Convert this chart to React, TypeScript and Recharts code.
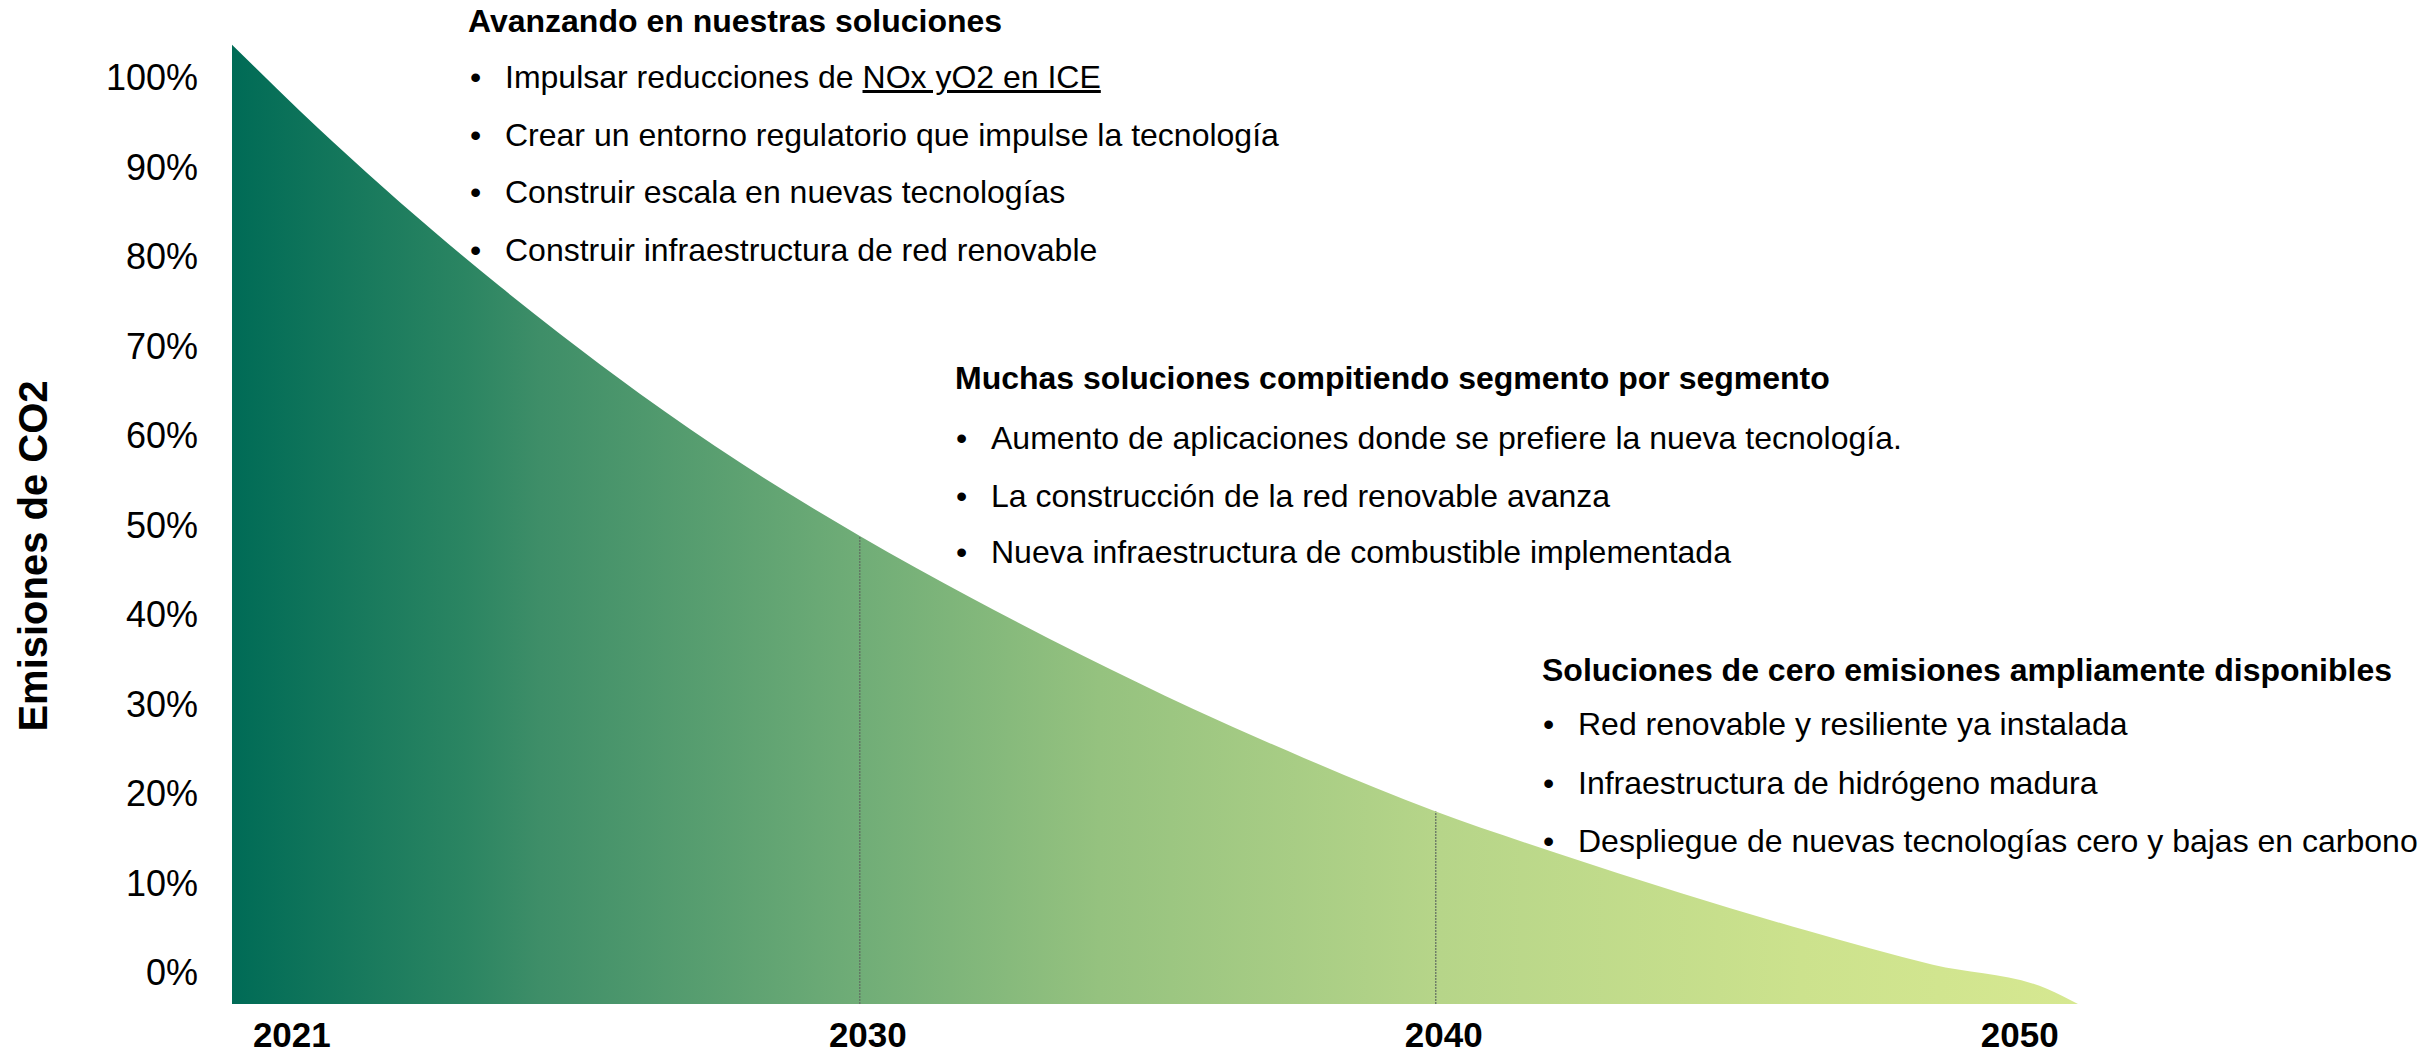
import { AreaChart, Area, XAxis, YAxis, ReferenceLine } from "recharts";

// position along the evenly spaced year axis (0 = 2021, 1 = 2030, 2 = 2040, 3 = 2050)
const curvePosition = [
  -0.09, 0.028, 0.144, 0.259, 0.375, 0.479, 0.618, 0.792, 1.0, 1.193,
  1.385, 1.578, 1.771, 2.0, 2.208, 2.425, 2.644, 2.863, 3.061, 3.115,
];
// CO2 emissions, % of today
const curveEmissions = [
  103.7, 96.3, 89.4, 82.9, 76.7, 71.4, 64.7, 57.0, 48.8, 41.9,
  35.5, 29.5, 24.0, 18.0, 13.4, 8.9, 4.7, 0.9, -1.8, -3.5,
];

const xTickLabels = ["2021", "2030", "2040", "2050"];
const xTickPositions = [0, 1, 2, 3];
const yTickValues = [0, 10, 20, 30, 40, 50, 60, 70, 80, 90, 100];
const yDomain: [number, number] = [-3.5, 104];

// milestone lines at 2030 and 2040
const markerPositions = [1, 2];
const markerValues = [48.8, 18.0];

const blocks = [
  {
    title: "Avanzando en nuestras soluciones",
    bullets: [
      "Impulsar reducciones de ",
      "Crear un entorno regulatorio que impulse la tecnología",
      "Construir escala en nuevas tecnologías",
      "Construir infraestructura de red renovable",
    ],
  },
  {
    title: "Muchas soluciones compitiendo segmento por segmento",
    bullets: [
      "Aumento de aplicaciones donde se prefiere la nueva tecnología.",
      "La construcción de la red renovable avanza",
      "Nueva infraestructura de combustible implementada",
    ],
  },
  {
    title: "Soluciones de cero emisiones ampliamente disponibles",
    bullets: [
      "Red renovable y resiliente ya instalada",
      "Infraestructura de hidrógeno madura",
      "Despliegue de nuevas tecnologías cero y bajas en carbono",
    ],
  },
];
const underlinedTail = "NOx yO2 en ICE";

const blockLayout = [
  { titleX: 468, textX: 505, titleY: 22, lineY: [78, 136, 193, 251] },
  { titleX: 955, textX: 991, titleY: 379, lineY: [439, 497, 553] },
  { titleX: 1542, textX: 1578, titleY: 671, lineY: [725, 784, 842] },
];

const data = curvePosition.map((p, i) => ({ pos: p, emissions: curveEmissions[i] }));

const FONT = '"Liberation Sans", Arial, Helvetica, sans-serif';

const YTick = ({ y, payload }: any) => (
  <text x={198} y={y} textAnchor="end" dominantBaseline="central" fontSize={36} fontFamily={FONT} fill="#000">
    {payload.value}%
  </text>
);

const XTick = ({ x, payload }: any) => (
  <text x={x + 8} y={1034} textAnchor="middle" dominantBaseline="central" fontSize={35} fontWeight="bold" fontFamily={FONT} fill="#000">
    {xTickLabels[payload.value]}
  </text>
);

export default function App() {
  return (
    <div style={{ position: "absolute", left: 0, top: 0, width: 2423, height: 1055, background: "#fff", fontFamily: FONT }}>
      <AreaChart width={2423} height={1055} data={data} margin={{ top: 42, right: 345, bottom: 0, left: 0 }}>
        <defs>
          <linearGradient id="emGrad" x1="0" y1="0" x2="1" y2="0">
            <stop offset="0%" stopColor="#006b56" />
            <stop offset="12.7%" stopColor="#2b8562" />
            <stop offset="16.7%" stopColor="#3e8e68" />
            <stop offset="34%" stopColor="#70ad77" />
            <stop offset="47%" stopColor="#95c27f" />
            <stop offset="65.4%" stopColor="#b6d589" />
            <stop offset="85%" stopColor="#cce28d" />
            <stop offset="100%" stopColor="#d6e891" />
          </linearGradient>
        </defs>
        <XAxis
          dataKey="pos"
          type="number"
          domain={[curvePosition[0], curvePosition[curvePosition.length - 1]]}
          ticks={xTickPositions}
          height={51}
          axisLine={false}
          tickLine={false}
          tick={<XTick />}
          interval={0}
        />
        <YAxis
          type="number"
          domain={yDomain}
          ticks={yTickValues}
          width={232}
          axisLine={false}
          tickLine={false}
          tick={<YTick />}
          interval={0}
        />
        <Area
          type="monotone"
          dataKey="emissions"
          baseValue="dataMin"
          stroke="none"
          fill="url(#emGrad)"
          fillOpacity={1}
          isAnimationActive={false}
          dot={false}
          activeDot={false}
        />
        {markerPositions.map((p, i) => (
          <ReferenceLine
            key={p}
            segment={[
              { x: p, y: yDomain[0] },
              { x: p, y: markerValues[i] },
            ]}
            stroke="#5f6b60"
            strokeWidth={1.2}
            strokeDasharray="2 1"
          />
        ))}
      </AreaChart>

      <svg width={2423} height={1055} style={{ position: "absolute", left: 0, top: 0, pointerEvents: "none" }}>
        <text
          transform="translate(33,556) rotate(-90)"
          textAnchor="middle"
          dominantBaseline="central"
          fontSize={40}
          fontWeight="bold"
          fontFamily={FONT}
          fill="#000"
        >
          Emisiones de CO2
        </text>
      </svg>

      {blocks.map((b, bi) => {
        const L = blockLayout[bi];
        return (
          <div key={bi}>
            <div style={{ position: "absolute", left: L.titleX, top: L.titleY - 17, fontSize: 32, lineHeight: "32px", fontWeight: "bold", whiteSpace: "nowrap", color: "#000" }}>
              {b.title}
            </div>
            {b.bullets.map((t, li) => (
              <div key={li}>
                <div style={{ position: "absolute", left: L.textX - 35, top: L.lineY[li] - 17, fontSize: 32, lineHeight: "32px", color: "#000" }}>•</div>
                <div style={{ position: "absolute", left: L.textX, top: L.lineY[li] - 17, fontSize: 32, lineHeight: "32px", whiteSpace: "nowrap", color: "#000" }}>
                  {t}
                  {bi === 0 && li === 0 ? <span style={{ textDecoration: "underline" }}>{underlinedTail}</span> : null}
                </div>
              </div>
            ))}
          </div>
        );
      })}
    </div>
  );
}
